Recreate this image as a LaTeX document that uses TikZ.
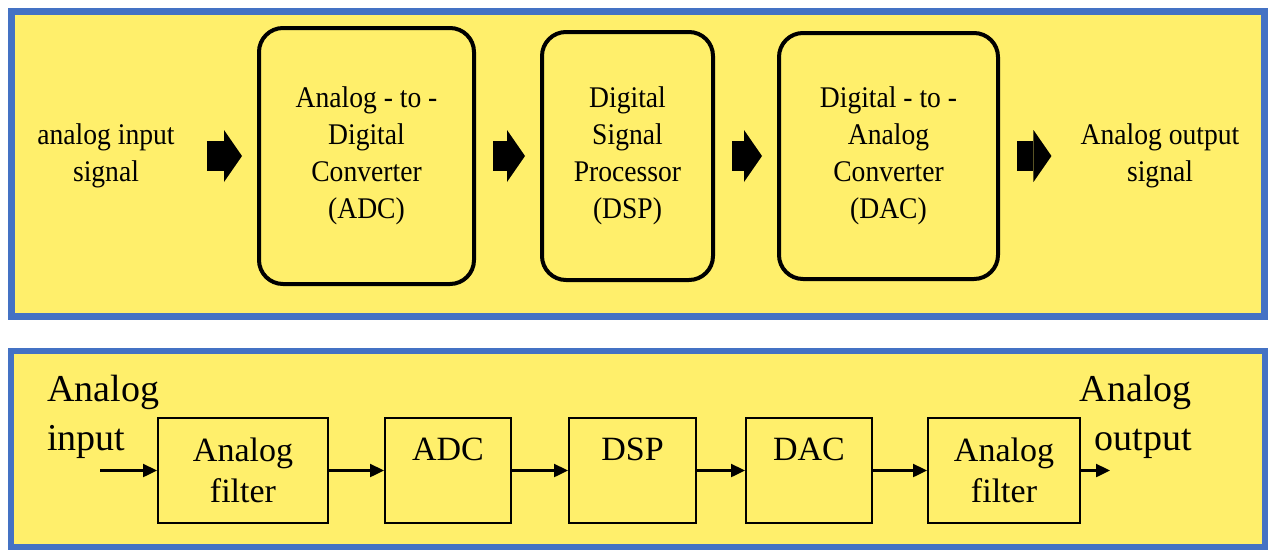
\documentclass[tikz,border=0pt]{standalone}
\usepackage{fontspec}
\setmainfont{Liberation Serif}
\newfontfamily\narrowserif{Liberation Serif}[FakeStretch=0.92]
\usetikzlibrary{arrows.meta, positioning}
\definecolor{frameblue}{HTML}{4472C4}
\definecolor{paneyellow}{HTML}{FFEF6B}

\begin{document}
\begin{tikzpicture}[x=1pt, y=-1pt,
    panel/.style={draw=frameblue, fill=paneyellow, line width=6.5pt},
    bigblock/.style={rectangle, draw=black, line width=4pt, rounded corners=24pt,
        align=center, inner sep=0pt, font=\narrowserif\fontsize{30}{37}\selectfont},
    bigtext/.style={align=center, inner sep=0pt,
        font=\narrowserif\fontsize{30}{37}\selectfont},
    blockarr/.style={line width=30pt,
        -{Triangle[length=18pt, width=52pt, line width=0pt]},
        shorten <=17pt, shorten >=15pt},
    smallblock/.style={rectangle, draw=black, line width=2pt, inner sep=0pt,
        minimum height=105pt, align=center, font=\fontsize{34}{41}\selectfont},
    toponly/.style={text height=24pt, text depth=45pt},
    sidetext/.style={inner sep=0pt, font=\fontsize{38}{49}\selectfont},
    arr/.style={line width=2.4pt, -{Triangle[length=14pt, width=13pt]}}
]
\useasboundingbox (0,0) rectangle (1271,550);

% Panels
\draw[panel] (11.5,11.5) rectangle (1264.5,316.5);
\draw[panel] (11,351) rectangle (1265,547);

% Top chain
\node[bigtext] (ain) at (106,156) {analog input\\signal};
\node[bigblock, minimum width=215pt, minimum height=256pt] (adc) at (366.5,156)
    {Analog - to -\\Digital\\Converter\\(ADC)};
\node[bigblock, minimum width=171pt, minimum height=248pt] (dsp) at (627.5,156)
    {Digital\\Signal\\Processor\\(DSP)};
\node[bigblock, minimum width=219pt, minimum height=246pt] (dac) at (888.5,156)
    {Digital - to -\\Analog\\Converter\\(DAC)};
\node[bigtext] (aout) at (1160,156) {Analog output\\signal};

\draw[blockarr, shorten <=32pt] (ain.east) -- (adc.west);
\draw[blockarr] (adc.east) -- (dsp.west);
\draw[blockarr] (dsp.east) -- (dac.west);
\draw[blockarr, shorten >=29pt] (dac.east) -- (aout.west);

% Bottom chain
\node[sidetext, align=left, anchor=west] (lin) at (47,417) {Analog\\input};
\node[sidetext, align=right, anchor=east] (lout) at (1192,417) {Analog\\output};

\node[smallblock, minimum width=170pt] (filt1) at (243,470.5) {Analog\\filter};
\node[smallblock, toponly, minimum width=126pt] (adc2) at (448,470.5) {ADC};
\node[smallblock, toponly, minimum width=127pt] (dsp2) at (632.5,470.5) {DSP};
\node[smallblock, toponly, minimum width=126pt] (dac2) at (809,470.5) {DAC};
\node[smallblock, minimum width=152pt] (filt2) at (1004,470.5) {Analog\\filter};

\coordinate (sigin) at (100,470.5);
\coordinate (sigout) at (1110,470.5);

\draw[arr] (sigin) -- (filt1);
\draw[arr] (filt1) -- (adc2);
\draw[arr] (adc2) -- (dsp2);
\draw[arr] (dsp2) -- (dac2);
\draw[arr] (dac2) -- (filt2);
\draw[arr] (filt2) -- (sigout);

\end{tikzpicture}
\end{document}
